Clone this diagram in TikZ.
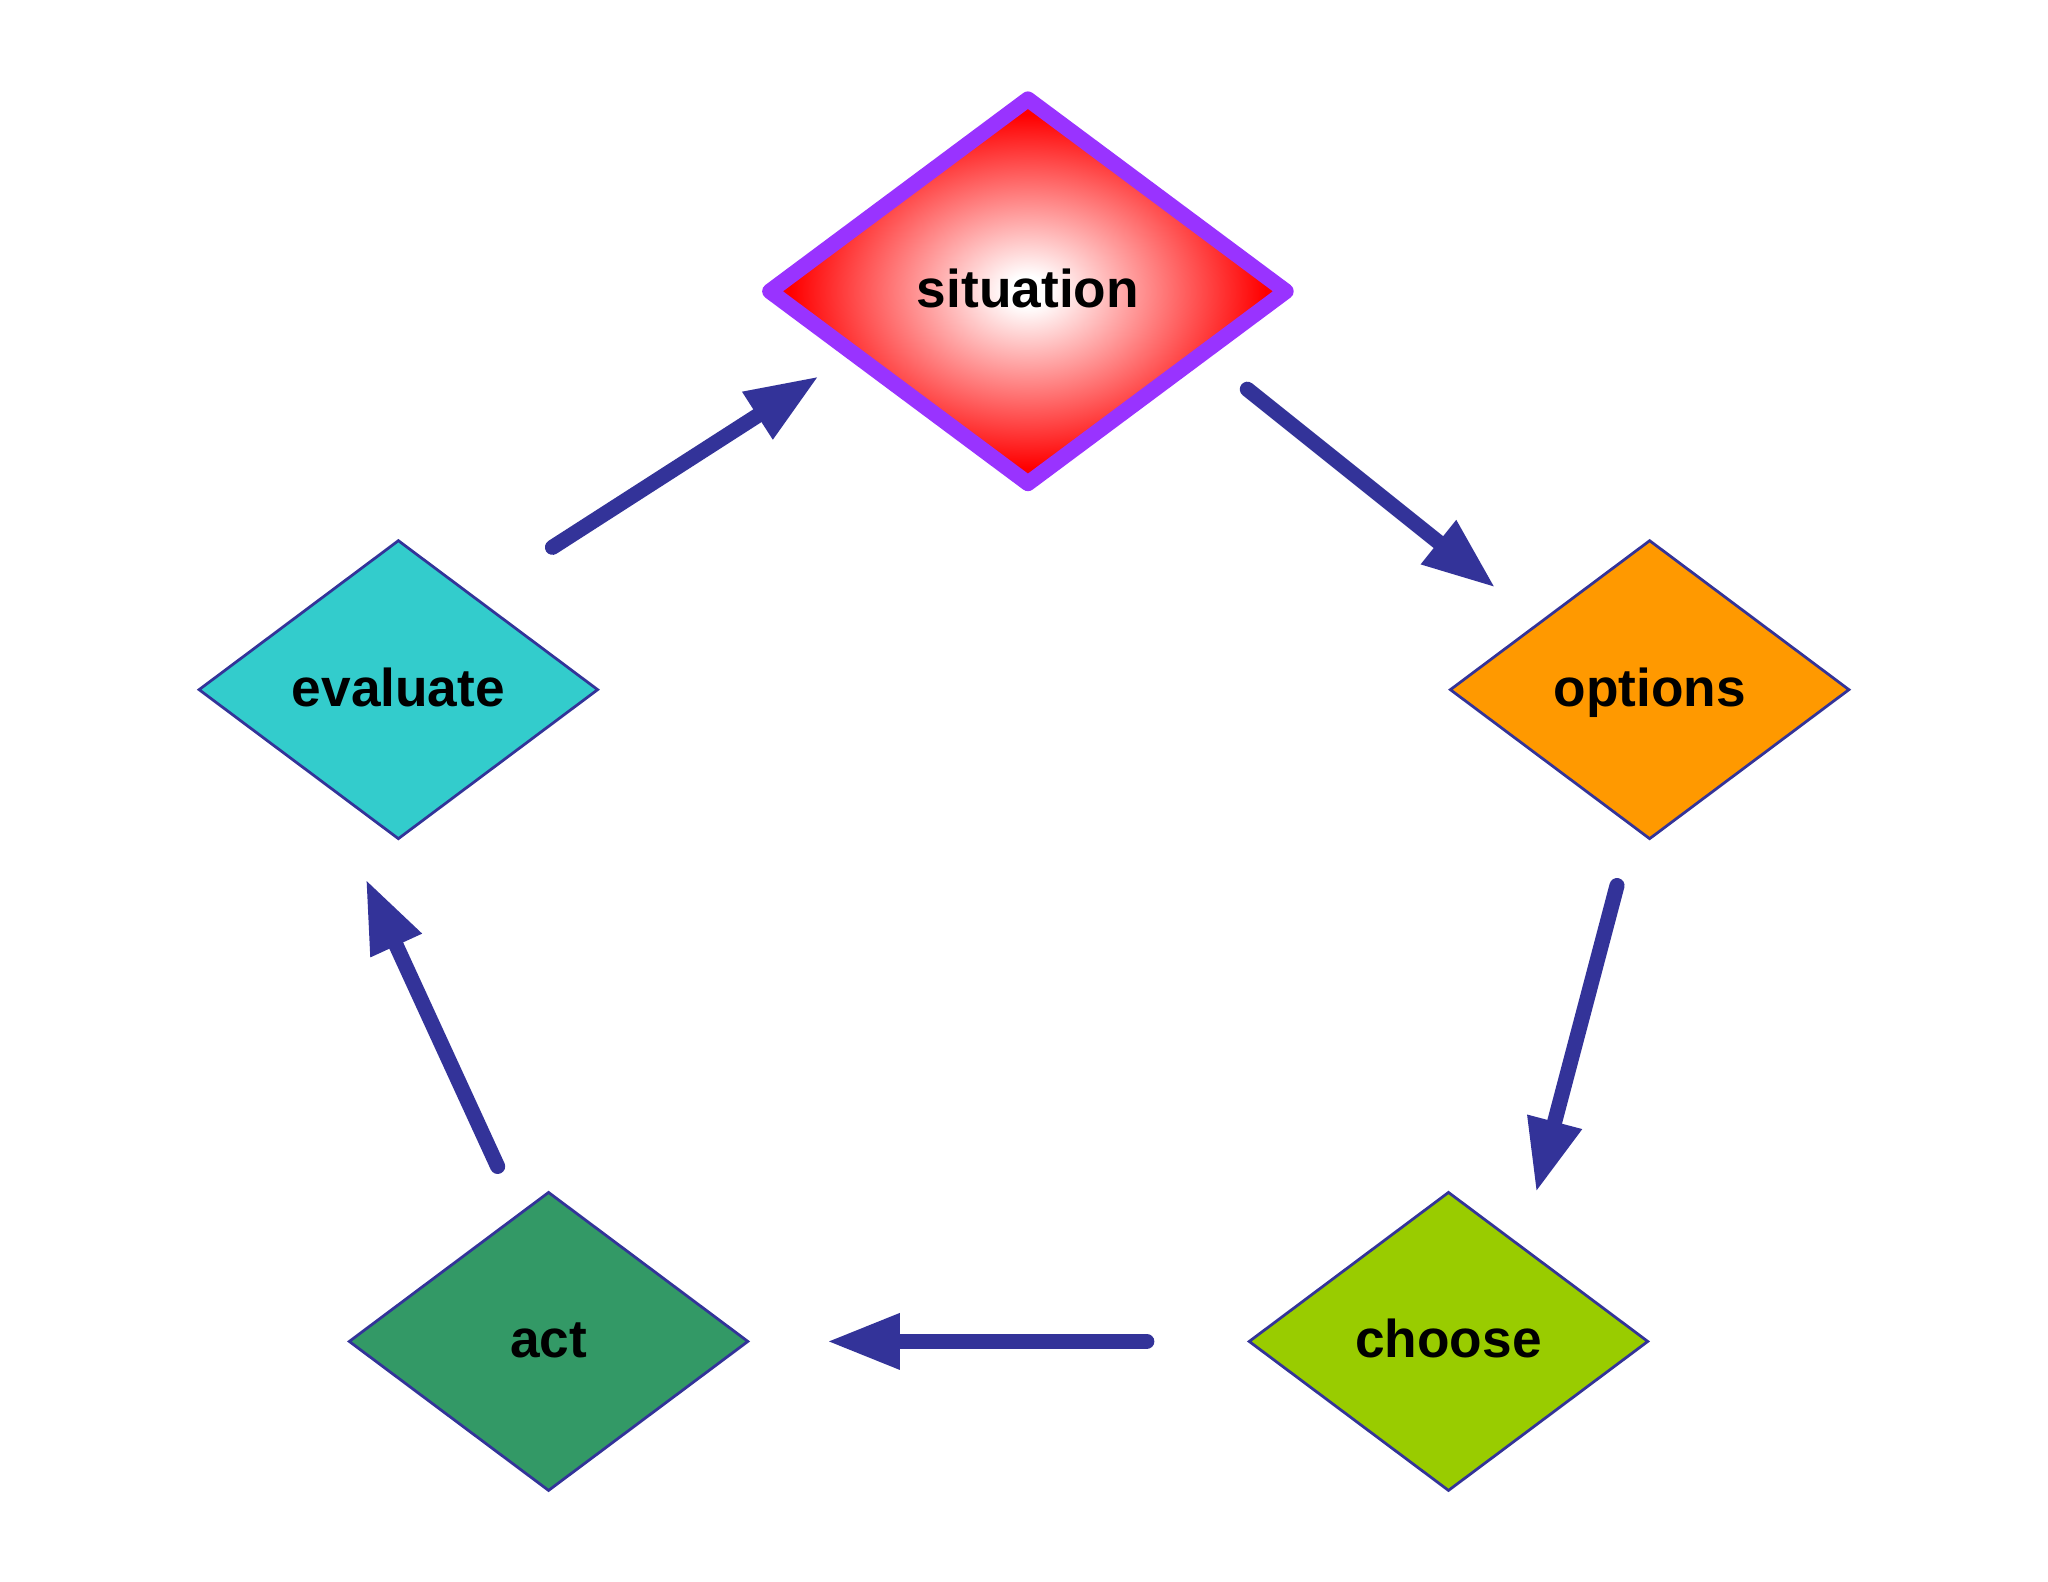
\documentclass[tikz,border=0pt]{standalone}
\usepackage{fontspec}
\setmainfont{Liberation Sans}
\usepackage{tikz}
\usetikzlibrary{positioning,shapes.geometric,arrows.meta,calc}

\definecolor{flowblue}{HTML}{333399}
\definecolor{evalcyan}{HTML}{33CCCC}
\definecolor{optorange}{HTML}{FF9900}
\definecolor{actgreen}{HTML}{339966}
\definecolor{choosegreen}{HTML}{99CC00}
\definecolor{sitpurple}{HTML}{9933FF}

\pgfdeclareradialshading{redglow}{\pgfpoint{0bp}{0bp}}{color(0bp)=(white); color(2bp)=(white); color(23bp)=(red); color(50bp)=(red)}

\tikzset{
  stage/.style={diamond, draw=flowblue, line width=0.6pt, minimum width=3.06cm,
    minimum height=2.29cm, inner sep=0pt, text height=1.55ex, text depth=0.2ex,
    font=\fontsize{11.6pt}{14pt}\selectfont\bfseries},
  flow/.style={draw=flowblue, line width=3.3pt, line cap=round,
    -{Triangle[length=0.56cm, width=0.40cm]}}
}

\begin{document}
\begin{tikzpicture}
\useasboundingbox[fill=white] (0,0) rectangle (15.68,-12.11);
\node[stage, shading=redglow, draw=sitpurple, line width=3.4pt, line join=round,
  minimum width=4.0cm, minimum height=2.99cm] (situation) at (7.87,-2.23) {situation};
\node[stage, fill=evalcyan] (evaluate) at (3.05,-5.28) {evaluate};
\node[stage, fill=optorange] (options) at (12.63,-5.28) {options};
\node[stage, fill=actgreen] (act) at (4.20,-10.27) {act};
\node[stage, fill=choosegreen] (choose) at (11.09,-10.27) {choose};
\draw[flow] ($(evaluate)+(1.18,1.09)$) -- ($(situation)+(-1.60,-0.65)$);
\draw[flow] ($(situation)+(1.68,-0.75)$) -- ($(options)+(-1.18,0.78)$);
\draw[flow] ($(options)+(-0.25,-1.50)$) -- ($(choose)+(0.67,1.14)$);
\draw[flow] ($(choose)+(-2.31,0)$) -- ($(act)+(2.13,0)$);
\draw[flow] ($(act)+(-0.39,1.34)$) -- ($(evaluate)+(-0.25,-1.45)$);
\end{tikzpicture}
\end{document}
